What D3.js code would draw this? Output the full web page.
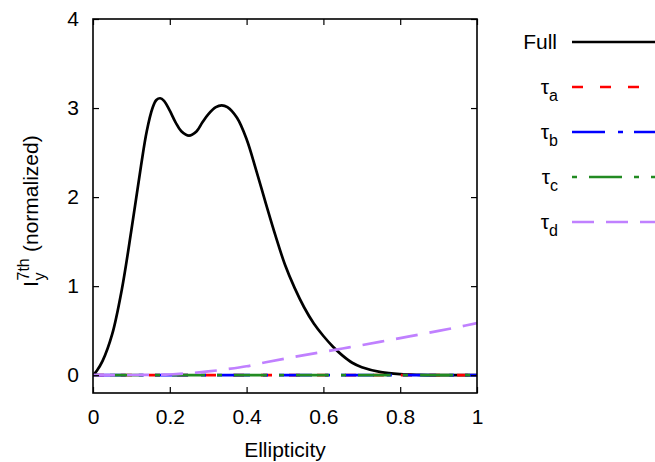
<html>
	<head>
		<meta charset="utf-8">
		<title>Ellipticity</title>
		<script src="https://d3js.org/d3.v7.min.js"></script>
		<style>
			body { margin: 0; background: #fff; }
			text { font-family: "Liberation Sans", Arial, sans-serif; fill: #000; }
		</style>
	</head>
	<body>
		<div id="chart"></div>
	<script type="text/javascript">
		// data
		var fullX = [0, 0.01, 0.025, 0.05, 0.075, 0.1, 0.125, 0.14, 0.155, 0.165, 0.175, 0.185, 0.2, 0.215, 0.23, 0.25, 0.27, 0.285, 0.3, 0.32, 0.335, 0.35,
			0.375, 0.4, 0.425, 0.45, 0.475, 0.5, 0.525, 0.55, 0.575, 0.6, 0.625, 0.65, 0.675, 0.7, 0.75, 0.8, 0.85, 0.9, 1.0];
		var fullY = [0, 0.05, 0.16, 0.46, 0.96, 1.63, 2.35, 2.74, 3.0, 3.09, 3.11, 3.08, 2.97, 2.84, 2.74, 2.69, 2.74, 2.84, 2.93, 3.01, 3.03, 3.01,
			2.89, 2.65, 2.3, 1.93, 1.57, 1.24, 0.98, 0.76, 0.58, 0.44, 0.32, 0.22, 0.14, 0.09, 0.035, 0.012, 0.004, 0.001, 0];

		var tauX = [0, 0.25, 0.5, 0.75, 1.0];
		var tauA = [0, 0, 0, 0, 0];
		var tauB = [0, 0, 0, 0, 0];
		var tauC = [0, 0, 0, 0, 0];

		var tauDX = [0, 0.1, 0.2, 0.25, 0.3, 0.35, 0.4, 0.45, 0.5, 0.55, 0.6, 0.65, 0.7, 0.75, 0.8, 0.85, 0.9, 0.95, 1.0];
		var tauD = [0, 0.002, 0.008, 0.022, 0.042, 0.068, 0.1, 0.145, 0.186, 0.225, 0.262, 0.3, 0.338, 0.377, 0.417, 0.456, 0.497, 0.54, 0.585];

		var xTicks = [0, 0.2, 0.4, 0.6, 0.8, 1];
		var xTickLabels = ["0", "0.2", "0.4", "0.6", "0.8", "1"];
		var yTicks = [0, 1, 2, 3, 4];
		var yTickLabels = ["0", "1", "2", "3", "4"];

		var series = [
			{name: "Full", sub: null, xs: fullX, ys: fullY, color: "#000000", dash: null},
			{name: "\u03c4", sub: "a", xs: tauX, ys: tauA, color: "#ff0000", dash: "11,17"},
			{name: "\u03c4", sub: "b", xs: tauX, ys: tauB, color: "#0000ff", dash: "33,13,5,11"},
			{name: "\u03c4", sub: "c", xs: tauX, ys: tauC, color: "#228b22", dash: "5,12,33,12"},
			{name: "\u03c4", sub: "d", xs: tauDX, ys: tauD, color: "#c080ff", dash: "22,12"}
		];

		var W = 655, H = 462;
		var margin = {top: 19, right: 178, bottom: 69, left: 93};
		var width = W - margin.left - margin.right,
		    height = H - margin.top - margin.bottom;

		var svg = d3.select("#chart")
		  .append("svg")
		    .attr("width", W)
		    .attr("height", H);
		var g = svg.append("g")
		    .attr("transform", "translate(" + margin.left + "," + margin.top + ")");

		var x = d3.scaleLinear().domain([0, 1]).range([0, width]);
		var y = d3.scaleLinear().domain([-0.2, 4]).range([height, 0]);

		// clip so the curves stay inside the box
		g.append("clipPath").attr("id", "clip")
		  .append("rect").attr("width", width).attr("height", height);

		var line = d3.line()
		  .x(function(d) { return x(d[0]); })
		  .y(function(d) { return y(d[1]); })
		  .curve(d3.curveCatmullRom.alpha(0.5));

		var plot = g.append("g").attr("clip-path", "url(#clip)");
		series.forEach(function(s) {
			var pts = s.xs.map(function(v, i) { return [v, s.ys[i]]; });
			plot.append("path")
			  .datum(pts)
			  .attr("fill", "none")
			  .attr("stroke", s.color)
			  .attr("stroke-width", 2.7)
			  .attr("stroke-dasharray", s.dash)
			  .attr("d", line);
		});

		// axes, ticks inward and mirrored
		var tickLen = 6;
		g.append("g")
		  .attr("transform", "translate(0," + height + ")")
		  .call(d3.axisBottom(x).tickValues(xTicks).tickSize(-tickLen).tickPadding(16)
		    .tickFormat(function(d, i) { return xTickLabels[i]; }));
		g.append("g")
		  .call(d3.axisTop(x).tickValues(xTicks).tickSize(-tickLen).tickFormat(""));
		g.append("g")
		  .call(d3.axisLeft(y).tickValues(yTicks).tickSize(-tickLen).tickPadding(14)
		    .tickFormat(function(d, i) { return yTickLabels[i]; }));
		g.append("g")
		  .attr("transform", "translate(" + width + ",0)")
		  .call(d3.axisRight(y).tickValues(yTicks).tickSize(-tickLen).tickFormat(""));

		g.selectAll(".domain").remove();
		g.selectAll(".tick line").attr("stroke", "#000").attr("stroke-width", 1.2);
		g.selectAll(".tick text").style("font-size", "21px").attr("font-family", null);

		g.append("rect")
		  .attr("width", width)
		  .attr("height", height)
		  .attr("fill", "none")
		  .attr("stroke", "#000")
		  .attr("stroke-width", 1.6);

		// axis titles
		svg.append("text")
		  .attr("x", margin.left + width / 2)
		  .attr("y", 457)
		  .attr("text-anchor", "middle")
		  .style("font-size", "21px")
		  .text("Ellipticity");

		var yl = svg.append("g").attr("transform", "translate(38,0) rotate(-90)");
		yl.append("text").attr("x", -287).attr("y", 0).style("font-size", "21px").text("I");
		yl.append("text").attr("x", -280.5).attr("y", 7).style("font-size", "16px").text("y");
		yl.append("text").attr("x", -280.5).attr("y", -9).style("font-size", "16px").text("7th");
		yl.append("text").attr("x", -252).attr("y", 0).style("font-size", "21px").text("(normalized)");

		// legend
		var leg = svg.append("g");
		series.forEach(function(s, i) {
			var ly = 42 + i * 45;
			var t = leg.append("text")
			  .attr("x", s.sub ? 558 : 557)
			  .attr("y", ly + 7)
			  .attr("text-anchor", "end")
			  .style("font-size", "21px");
			if (s.sub) {
				t.append("tspan").text(s.name);
				t.append("tspan").attr("dy", 7).style("font-size", "16px").text(s.sub);
			} else {
				t.text(s.name);
			}
			leg.append("line")
			  .attr("x1", 572).attr("x2", 662)
			  .attr("y1", ly).attr("y2", ly)
			  .attr("stroke", s.color)
			  .attr("stroke-width", 2.7)
			  .attr("stroke-dasharray", s.dash);
		});
	</script>
	</body>
</html>
